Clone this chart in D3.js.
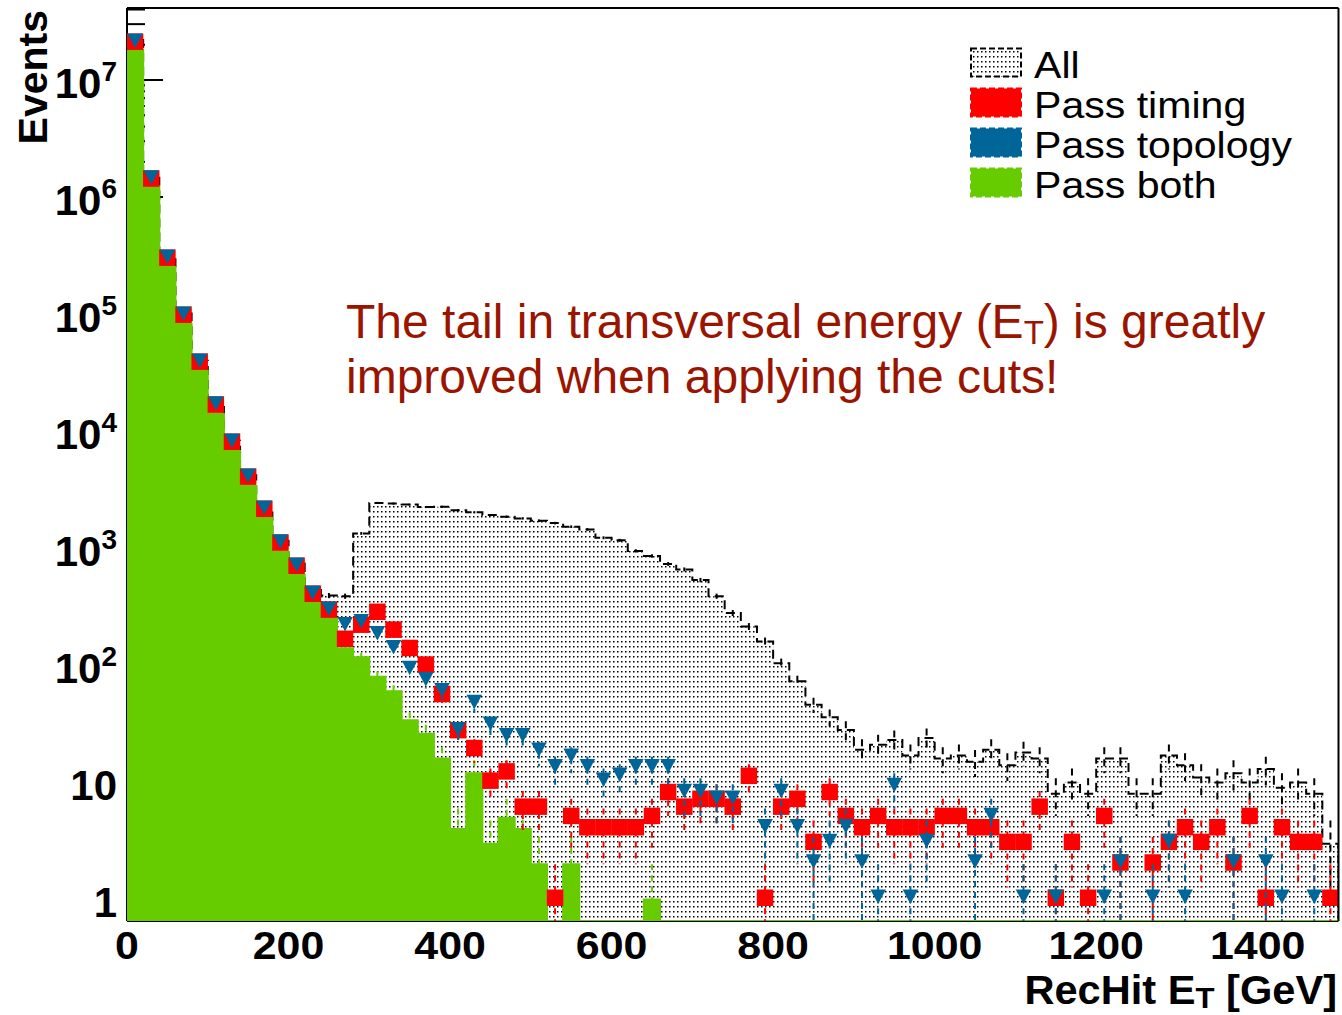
<!DOCTYPE html>
<html>
<head>
<meta charset="utf-8">
<script src="https://cdn.jsdelivr.net/npm/d3@7"></script>
<style>
  html, body { margin: 0; padding: 0; background: #fff; }
  svg { display: block; font-family: "Liberation Sans", Arial, Helvetica, sans-serif; }
</style>
</head>
<body>
<svg id="chart" width="1342" height="1015"></svg>
<script>
// ---- binning: 75 bins of 20 GeV from 0 to 1500 GeV ----
const binWidth = 20;
const binStart = d3.range(0, 1500, binWidth);

// ---- event counts per bin ----
const allEvents = [
  2.2e7, 1.46e6, 3.1e5, 1.01e5, 4.0e4, 1.72e4, 8300, 4200, 2250, 1160, 740, 440, 395,
  390, 1340, 2440, 2410, 2360, 2250, 2260, 2110, 2030, 1920, 1860, 1800, 1720, 1640,
  1530, 1450, 1230, 1170, 950, 860, 735, 660, 535, 390, 280, 215, 160, 104, 73, 46,
  36, 28, 19, 21, 23, 17, 24, 16, 17, 15, 19, 14, 18, 16, 8, 10, 8, 16, 16, 8, 8,
  17, 14, 11, 10, 12, 10, 13, 9, 10, 8, 3
];
const passTiming = [
  2.05e7, 1.39e6, 2.93e5, 9.55e4, 3.79e4, 1.63e4, 7850, 3950, 2100, 1080, 685, 395, 289,
  163, 215, 277, 195, 136, 98, 55, 27, 19, 10, 12, 6, 6, 1, 5, 4, 4, 4, 4, 5, 8, 6,
  7, 7, 6, 11, 1, 6, 7, 3, 8, 5, 4, 5, 4, 4, 4, 5, 5, 4, 4, 3, 3, 6, 1, 3, 1, 5, 2,
  0, 2, 3, 4, 3, 4, 2, 5, 1, 4, 3, 3, 1
];
const passTopology = [
  2.05e7, 1.39e6, 2.93e5, 9.55e4, 3.79e4, 1.63e4, 7850, 3950, 2100, 1080, 685, 395, 289,
  213, 226, 178, 135, 90, 72, 58, 27, 46, 30, 24, 24, 18, 13, 16, 13, 10, 11, 13, 13,
  13, 8, 8, 7, 7, 0, 4, 8, 4, 2, 3, 4, 2, 1, 9, 1, 3, 0, 0, 2, 5, 0, 1, 0, 1, 0, 0,
  1, 2, 0, 1, 3, 1, 0, 0, 2, 0, 2, 1, 0, 1, 0
];
const passBoth = [
  1.8e7, 1.22e6, 2.53e5, 8.24e4, 3.27e4, 1.40e4, 6780, 3410, 1820, 929, 591, 341, 252,
  140, 117, 80, 60, 34, 26, 16, 4, 12, 3, 5, 4, 2, 0, 2, 0, 0, 0, 0, 1, 0, 0, 0, 0,
  0, 0, 0, 0, 0, 0, 0, 0, 0, 0, 0, 0, 0, 0, 0, 0, 0, 0, 0, 0, 0, 0, 0, 0, 0, 0, 0,
  0, 0, 0, 0, 0, 0, 0, 0, 0, 0, 0
];

// ---- axis ticks and labels ----
const xTickValues = [0, 200, 400, 600, 800, 1000, 1200, 1400];
const xTickLabels = ["0", "200", "400", "600", "800", "1000", "1200", "1400"];
const yDecades = [1, 10, 100, 1e3, 1e4, 1e5, 1e6, 1e7];
const yTickBase = ["1", "10", "10", "10", "10", "10", "10", "10"];
const yTickExp  = ["", "", "2", "3", "4", "5", "6", "7"];

const legendLabels = ["All", "Pass timing", "Pass topology", "Pass both"];
const noteLines = ["The tail in transversal energy (E", "improved when applying the cuts!"];

// ---- colours ----
const cRed = "#ff0000", cBlue = "#006699", cGreen = "#66cc00", cNote = "#9a1500";

// ---- frame and scales ----
const frame = { left: 127, right: 1338.5, top: 8, bottom: 921 };
const yMin = 0.655, yMax = 4.12e7;
const x = d3.scaleLinear().domain([0, 1500]).range([frame.left, frame.right]);
const y = d3.scaleLog().domain([yMin, yMax]).range([frame.bottom, frame.top]);
const yc = v => (v > yMin ? y(v) : frame.bottom);

const svg = d3.select("#chart");
const defs = svg.append("defs");

// dotted fill used for the "All" histogram
const pat = defs.append("pattern").attr("id", "dots")
  .attr("patternUnits", "userSpaceOnUse").attr("width", 4).attr("height", 5);
pat.append("rect").attr("width", 4).attr("height", 5).attr("fill", "#fff");
pat.append("rect").attr("x", 1).attr("y", 1).attr("width", 1.5).attr("height", 1.5).attr("fill", "#000");

defs.append("clipPath").attr("id", "plotClip").append("rect")
  .attr("x", frame.left).attr("y", frame.top)
  .attr("width", frame.right - frame.left).attr("height", frame.bottom - frame.top);

// ---- axis lines and ticks (drawn below the histograms) ----
const axes = svg.append("g").attr("stroke", "#000");
axes.append("line").attr("x1", frame.left).attr("x2", frame.left)
  .attr("y1", frame.top).attr("y2", frame.bottom).attr("stroke-width", 2);
axes.append("line").attr("x1", frame.left).attr("x2", frame.right)
  .attr("y1", frame.bottom).attr("y2", frame.bottom).attr("stroke-width", 2);

// y: major ticks at decades, minor ticks at 2..9 x decade
const yMinor = [];
for (let e = -1; e <= 7; e++) for (let k = 2; k <= 9; k++) {
  const v = k * Math.pow(10, e);
  if (v > yMin && v < yMax) yMinor.push(v);
}
axes.selectAll(".ymaj").data(yDecades).join("line")
  .attr("x1", frame.left).attr("x2", frame.left + 36)
  .attr("y1", d => y(d)).attr("y2", d => y(d)).attr("stroke-width", 2);
axes.selectAll(".ymin").data(yMinor).join("line")
  .attr("x1", frame.left).attr("x2", frame.left + 18)
  .attr("y1", d => y(d)).attr("y2", d => y(d)).attr("stroke-width", 2);

// x: major ticks every 200 GeV, minor every 50 GeV
const xMinor = d3.range(50, 1500, 50).filter(v => v % 200 !== 0);
axes.selectAll(".xmaj").data(xTickValues).join("line")
  .attr("x1", d => x(d)).attr("x2", d => x(d))
  .attr("y1", frame.bottom).attr("y2", frame.bottom - 27).attr("stroke-width", 2);
axes.selectAll(".xmin").data(xMinor).join("line")
  .attr("x1", d => x(d)).attr("x2", d => x(d))
  .attr("y1", frame.bottom).attr("y2", frame.bottom - 13.5).attr("stroke-width", 2);

// ---- histogram helpers ----
function stepPoints(values) {
  const pts = [[x(binStart[0]), frame.bottom]];
  values.forEach((v, i) => {
    pts.push([x(binStart[i]), yc(v)], [x(binStart[i] + binWidth), yc(v)]);
  });
  pts.push([x(binStart[values.length - 1] + binWidth), frame.bottom]);
  return pts;
}
const line = d3.line();

function errorBars(g, values, color, dash) {
  const data = values.map((v, i) => ({ v, i })).filter(d => d.v > 0);
  g.selectAll(null).data(data).join("line")
    .attr("x1", d => x(binStart[d.i] + binWidth / 2))
    .attr("x2", d => x(binStart[d.i] + binWidth / 2))
    .attr("y1", d => yc(d.v + Math.sqrt(d.v)))
    .attr("y2", d => yc(d.v - Math.sqrt(d.v)))
    .attr("stroke", color).attr("stroke-width", 2)
    .attr("stroke-dasharray", dash);
}

const plot = svg.append("g").attr("clip-path", "url(#plotClip)");

// "All": dotted fill, dashed outline, dashed error bars
const allPts = stepPoints(allEvents);
plot.append("path").attr("d", line(allPts) + "Z").attr("fill", "url(#dots)");
plot.append("path").attr("d", line(allPts)).attr("fill", "none")
  .attr("stroke", "#000").attr("stroke-width", 2).attr("stroke-dasharray", "9,5");
errorBars(plot.append("g"), allEvents, "#000", "7,5");

// "Pass both": solid green fill
const bothPts = stepPoints(passBoth);
plot.append("path").attr("d", line(bothPts) + "Z").attr("fill", cGreen)
  .attr("stroke", cGreen).attr("stroke-width", 2);
errorBars(plot.append("g"), passBoth, cGreen, "6,5");

// "Pass timing": red squares
errorBars(plot.append("g"), passTiming, cRed, "6,5");
plot.append("g").selectAll("rect")
  .data(passTiming.map((v, i) => ({ v, i })).filter(d => d.v > 0))
  .join("rect")
  .attr("x", d => x(binStart[d.i] + binWidth / 2) - 8.25)
  .attr("y", d => y(d.v) - 10)
  .attr("width", 16.5).attr("height", 16.5)
  .attr("fill", cRed);

// "Pass topology": blue downward triangles
errorBars(plot.append("g"), passTopology, cBlue, "6,5");
plot.append("g").selectAll("path")
  .data(passTopology.map((v, i) => ({ v, i })).filter(d => d.v > 0))
  .join("path")
  .attr("d", d => {
    const cx = x(binStart[d.i] + binWidth / 2), cy = y(d.v);
    return `M${cx - 7.8},${cy - 10}L${cx + 7.8},${cy - 10}L${cx},${cy + 4.5}Z`;
  })
  .attr("fill", cBlue);

// ---- frame top / right ----
svg.append("line").attr("x1", frame.left).attr("x2", frame.right)
  .attr("y1", frame.top).attr("y2", frame.top).attr("stroke", "#000").attr("stroke-width", 2);
svg.append("line").attr("x1", frame.right).attr("x2", frame.right)
  .attr("y1", frame.top).attr("y2", frame.bottom).attr("stroke", "#000").attr("stroke-width", 2);

// ---- tick labels ----
const yl = svg.append("g").attr("font-weight", "bold").attr("fill", "#000");
yDecades.forEach((d, i) => {
  const t = yl.append("text").attr("x", 117).attr("y", y(d) + 18)
    .attr("text-anchor", "end").attr("font-size", 42);
  t.append("tspan").text(yTickBase[i]);
  if (yTickExp[i]) t.append("tspan").attr("dy", -17).attr("font-size", 28).text(yTickExp[i]);
});

const xl = svg.append("g").attr("font-weight", "bold").attr("fill", "#000");
xTickValues.forEach((d, i) => {
  xl.append("g").attr("transform", `translate(${x(d)},959) scale(1.1,1)`)
    .append("text").attr("text-anchor", "middle").attr("font-size", 39).text(xTickLabels[i]);
});

// ---- axis titles ----
const xt = svg.append("g").attr("transform", "translate(1337,1004) scale(1.04,1)")
  .append("text").attr("text-anchor", "end").attr("font-weight", "bold").attr("font-size", 40);
xt.append("tspan").text("RecHit E");
xt.append("tspan").attr("dy", 4).attr("font-size", 30).text("T");
xt.append("tspan").attr("dy", -4).text(" [GeV]");

svg.append("text").attr("transform", "translate(47,10) rotate(-90)")
  .attr("text-anchor", "end").attr("font-weight", "bold").attr("font-size", 41)
  .text("Events");

// ---- legend ----
const legY = [62.5, 102.5, 142.5, 182.5];
const legFill = ["url(#dots)", cRed, cBlue, cGreen];
const legStroke = ["#000", cRed, cBlue, cGreen];
const leg = svg.append("g");
legendLabels.forEach((lab, i) => {
  leg.append("rect").attr("x", 971).attr("y", legY[i] - 14).attr("width", 50).attr("height", 28)
    .attr("fill", legFill[i]).attr("stroke", legStroke[i]).attr("stroke-width", 2)
    .attr("stroke-dasharray", "6,3");
  leg.append("g").attr("transform", `translate(1034,${legY[i] + 15.5}) scale(1.11,1)`)
    .append("text").attr("font-size", 37).attr("fill", "#000").text(lab);
});

// ---- annotation ----
const note = svg.append("g").attr("fill", cNote).attr("font-size", 48);
const n1 = note.append("text").attr("x", 346).attr("y", 338);
n1.append("tspan").text(noteLines[0]);
n1.append("tspan").attr("dy", 6).attr("font-size", 33).text("T");
n1.append("tspan").attr("dy", -6).text(") is greatly");
note.append("text").attr("x", 346).attr("y", 393).text(noteLines[1]);
</script>
</body>
</html>
